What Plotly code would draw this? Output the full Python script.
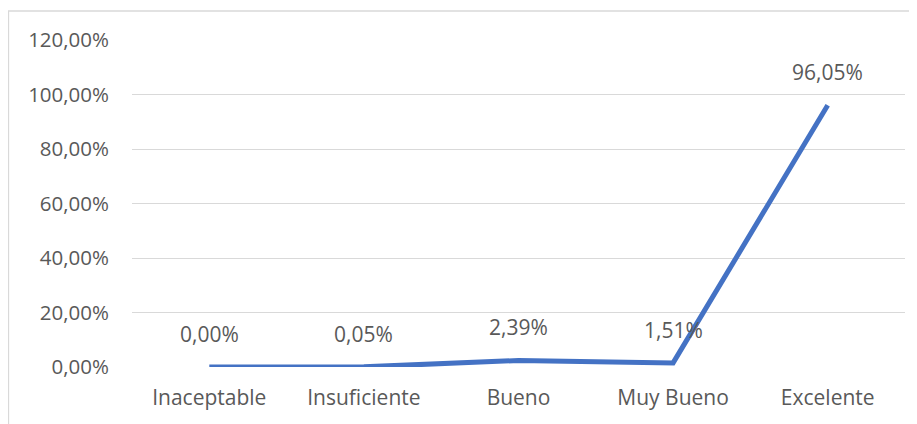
import plotly.graph_objects as go

categories = ["Inaceptable", "Insuficiente", "Bueno", "Muy Bueno", "Excelente"]
values = [0.00, 0.05, 2.39, 1.51, 96.05]
labels = ["0,00%", "0,05%", "2,39%", "1,51%", "96,05%"]
y_ticks = [0, 20, 40, 60, 80, 100, 120]
y_tick_labels = ["0,00%", "20,00%", "40,00%", "60,00%", "80,00%", "100,00%", "120,00%"]

# page body has an 8px margin, so the figure is sized/offset to compensate
W, H = 909, 416
ML, MR, MT, MB = 124, 12, 32, 57
FONT = "Open Sans"
TXT = "#595959"
GRID = "#D9D9D9"

fig = go.Figure()
fig.add_trace(go.Scatter(
    x=categories, y=values, mode="lines",
    line=dict(color="#4472C4", width=5),
    hoverinfo="skip", showlegend=False,
))

for c, v, t in zip(categories, values, labels):
    fig.add_annotation(x=c, y=v, text=t, showarrow=False, yshift=33,
                       xanchor="center", yanchor="middle",
                       font=dict(family=FONT, size=21, color=TXT))

pw = W - ML - MR
ph = H - MT - MB
# chart border (top-left visible, extends beyond right/bottom)
fig.add_shape(type="rect", xref="paper", yref="paper",
              x0=(0.5 - ML) / pw, x1=(W + 10 - ML) / pw,
              y0=(H - MB - (H + 10)) / ph, y1=(H - MB - 3) / ph,
              line=dict(color=GRID, width=1.3), fillcolor="rgba(0,0,0,0)", layer="below")

fig.update_layout(
    width=W, height=H,
    margin=dict(l=ML, r=MR, t=MT, b=MB),
    paper_bgcolor="white", plot_bgcolor="white",
    font=dict(family=FONT, size=21, color=TXT),
    xaxis=dict(type="category", range=[-0.5, 4.5], showgrid=False, zeroline=False,
               showline=False, ticks="", ticklabelstandoff=16,
               tickfont=dict(family=FONT, size=21, color=TXT)),
    yaxis=dict(range=[0, 120], tickvals=y_ticks, ticktext=y_tick_labels,
               showgrid=True, gridcolor=GRID, gridwidth=1.3, zeroline=False,
               showline=False, ticks="", ticklabelstandoff=22,
               tickfont=dict(family=FONT, size=20.5, color=TXT)),
)

fig.write_html("out.html")
